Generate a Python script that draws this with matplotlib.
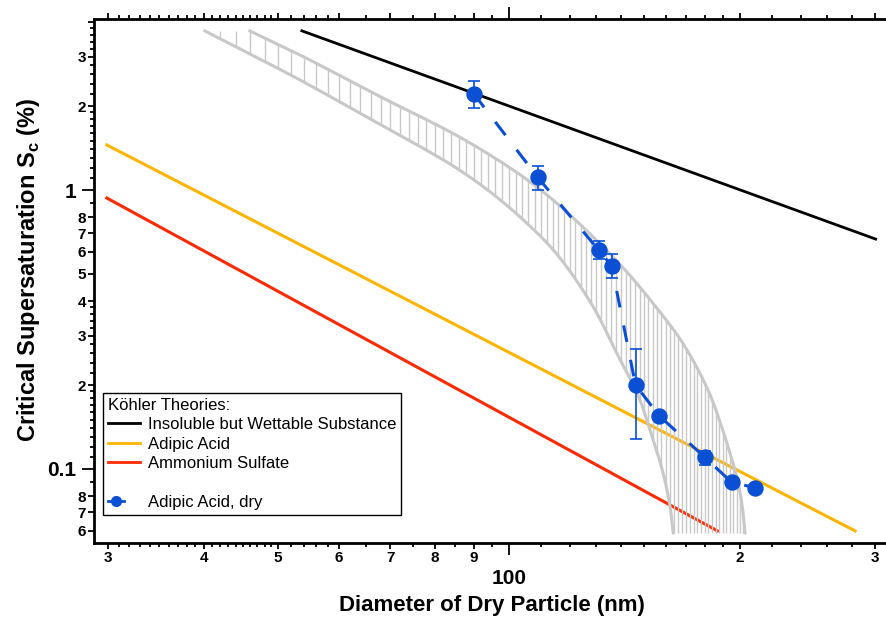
import numpy as np
import matplotlib
matplotlib.use('Agg')
import matplotlib.pyplot as plt
from matplotlib.lines import Line2D
from matplotlib.legend_handler import HandlerLine2D
from matplotlib.ticker import FixedLocator, FixedFormatter, NullFormatter

plt.rcParams['font.family'] = ['Liberation Sans', 'DejaVu Sans']
plt.rcParams['font.weight'] = 'bold'
plt.rcParams['mathtext.fontset'] = 'custom'
plt.rcParams['mathtext.bf'] = 'Liberation Sans:bold'
plt.rcParams['mathtext.rm'] = 'Liberation Sans'

# Koehler theory lines (dry diameter nm, Sc %)
insol_dp = [53.7, 300.6]
insol_sc = [3.72, 0.667]
adipic_dp = [29.9, 282.6]
adipic_sc = [1.45, 0.060]
amsulf_dp = [29.9, 187.0]
amsulf_sc = [0.936, 0.060]

# grey band edges
band_a_dp = [40.15, 45.95, 53.4, 69.98, 77.3, 85.5, 94.45, 104.4, 115.4, 128.7,
             138.2, 147.3, 153.1, 158.8, 162.2, 163.7]
band_a_sc = [3.715, 3.073, 2.48, 1.641, 1.411, 1.196, 0.986, 0.781, 0.590, 0.382,
             0.260, 0.184, 0.1346, 0.0968, 0.0731, 0.059]
band_b_dp = [45.95, 53.4, 69.98, 77.3, 85.5, 94.45, 104.4, 115.4, 127.5, 142.5,
             157.3, 166.1, 174.8, 182.9, 189.0, 194.1, 198.3, 201.3, 203.1]
band_b_sc = [3.715, 3.047, 2.073, 1.812, 1.568, 1.335, 1.113, 0.898, 0.696, 0.508,
             0.3653, 0.2997, 0.2378, 0.1842, 0.1438, 0.1141, 0.0929, 0.0743, 0.059]

# measured adipic acid, dry
dry_dp = [90.0, 109.0, 130.9, 136.1, 146.2, 157.0, 180.1, 195.1, 209.3]
dry_sc = [2.21, 1.11, 0.609, 0.535, 0.200, 0.155, 0.110, 0.0896, 0.0857]
dry_hi = [2.46, 1.22, 0.656, 0.588, 0.270, 0.155, 0.116, 0.0896, 0.0857]
dry_lo = [1.97, 1.00, 0.566, 0.483, 0.128, 0.155, 0.103, 0.0896, 0.0857]

xtick_vals = [30, 40, 50, 60, 70, 80, 90, 100, 200, 300]
xtick_labels = ['3', '4', '5', '6', '7', '8', '9', '100', '2', '3']
xminor = ([31, 32, 33, 34, 35, 36, 37, 38, 39, 41, 42, 43, 44, 45, 46, 47, 48, 49,
           52, 54, 56, 58, 65, 75, 85, 95, 110, 120, 130, 140, 150, 160, 170, 180, 190,
           220, 240, 260, 280])
ytick_vals = [0.06, 0.07, 0.08, 0.1, 0.2, 0.3, 0.4, 0.5, 0.6, 0.7, 0.8, 1, 2, 3, 4]
ytick_labels = ['6', '7', '8', '0.1', '2', '3', '4', '5', '6', '7', '8', '1', '2', '3', '']
yminor = ([0.09, 0.11, 0.12, 0.13, 0.14, 0.15, 0.16, 0.17, 0.18, 0.19,
           0.22, 0.24, 0.26, 0.28, 0.32, 0.34, 0.36, 0.38, 0.9,
           1.1, 1.2, 1.3, 1.4, 1.5, 1.6, 1.7, 1.8, 1.9,
           2.2, 2.4, 2.6, 2.8, 3.2, 3.4, 3.6, 3.8])

blue = '#0a4fd4'
orange = '#ffb400'
red = '#ff2a00'
grey = '#c8c8c8'


def smooth_path(xs, ys, n=12):
    # centripetal Catmull-Rom through the read points, log-log space (drawing only)
    sc = np.array([767.0, 279.0])
    p = np.column_stack([np.log10(xs), np.log10(ys)]) * sc
    p = np.vstack([2 * p[0] - p[1], p, 2 * p[-1] - p[-2]])
    out = []
    for i in range(1, len(p) - 2):
        p0, p1, p2, p3 = p[i - 1], p[i], p[i + 1], p[i + 2]
        t0 = 0.0
        t1 = t0 + np.linalg.norm(p1 - p0) ** 0.5
        t2 = t1 + np.linalg.norm(p2 - p1) ** 0.5
        t3 = t2 + np.linalg.norm(p3 - p2) ** 0.5
        t = np.linspace(t1, t2, n, endpoint=False)[:, None]
        a1 = (t1 - t) / (t1 - t0) * p0 + (t - t0) / (t1 - t0) * p1
        a2 = (t2 - t) / (t2 - t1) * p1 + (t - t1) / (t2 - t1) * p2
        a3 = (t3 - t) / (t3 - t2) * p2 + (t - t2) / (t3 - t2) * p3
        b1 = (t2 - t) / (t2 - t0) * a1 + (t - t0) / (t2 - t0) * a2
        b2 = (t3 - t) / (t3 - t1) * a2 + (t - t1) / (t3 - t1) * a3
        out.append((t2 - t) / (t2 - t1) * b1 + (t - t1) / (t2 - t1) * b2)
    out.append(p[-2][None, :])
    out = np.vstack(out) / sc
    return 10 ** out[:, 0], 10 ** out[:, 1]


fig = plt.figure(figsize=(8.86, 6.17), dpi=100)
ax = fig.add_axes([94/886, 74/617, 792/886, 524/617])
ax.set_xscale('log')
ax.set_yscale('log')
ax.set_xlim(28.77, 310.1)
ax.set_ylim(0.05429, 4.102)

ax.plot(insol_dp, insol_sc, color='black', lw=2.0, zorder=2)
ax.plot(adipic_dp, adipic_sc, color=orange, lw=2.2, zorder=2)
ax.plot(amsulf_dp, amsulf_sc, color=red, lw=2.2, zorder=2)

# vertical hatching of the band, every 2 nm
a_x, a_y = smooth_path(band_a_dp, band_a_sc)
b_x, b_y = smooth_path(band_b_dp, band_b_sc)
hatch_x = np.arange(42, 203, 2)
h_lo = np.exp(np.interp(np.log(hatch_x), np.log(np.maximum.accumulate(a_x)), np.log(a_y),
                        right=np.log(band_a_sc[-1])))
h_hi = np.exp(np.interp(np.log(hatch_x), np.log(np.maximum.accumulate(b_x)), np.log(b_y),
                        left=np.log(band_b_sc[0])))
ax.vlines(hatch_x, h_lo, h_hi, colors=grey, lw=1.0, zorder=3)
ax.plot(a_x, a_y, color=grey, lw=2.2, zorder=3)
ax.plot(b_x, b_y, color=grey, lw=2.2, zorder=3)

yerr = [np.array(dry_sc) - np.array(dry_lo), np.array(dry_hi) - np.array(dry_sc)]
ax.errorbar(dry_dp, dry_sc, yerr=yerr, fmt='none', ecolor=blue, elinewidth=1.2,
            capsize=4.3, capthick=1.2, zorder=4)
ax.plot(dry_dp, dry_sc, color=blue, lw=2.2, ls=(0, (5.5, 6)), marker='o', ms=10.8,
        zorder=5)

# axes styling
for s in ['left', 'bottom', 'top']:
    ax.spines[s].set_linewidth(2.0)
ax.spines['right'].set_visible(False)

ax.xaxis.set_major_locator(FixedLocator(xtick_vals))
ax.xaxis.set_major_formatter(FixedFormatter(xtick_labels))
ax.xaxis.set_minor_locator(FixedLocator(xminor))
ax.xaxis.set_minor_formatter(NullFormatter())
ax.yaxis.set_major_locator(FixedLocator(ytick_vals))
ax.yaxis.set_major_formatter(FixedFormatter(ytick_labels))
ax.yaxis.set_minor_locator(FixedLocator(yminor))
ax.yaxis.set_minor_formatter(NullFormatter())

ax.tick_params(which='both', direction='out', width=1.3, top=True, right=False,
               labeltop=False)
ax.tick_params(which='major', length=4.5, labelsize=11, pad=1.2)
ax.tick_params(which='minor', length=2.6)

xt = ax.xaxis.get_major_ticks()
t = xt[xtick_vals.index(100)]
t.set_pad(14)
t.tick1line.set_markersize(8.6)
t.tick2line.set_markersize(8.6)
t.label1.set_fontsize(15)

yt = ax.yaxis.get_major_ticks()
for v in [0.1, 1]:
    t = yt[ytick_vals.index(v)]
    t.set_pad(8)
    t.tick1line.set_markersize(8.6)
    t.tick2line.set_markersize(8.6)
    t.label1.set_fontsize(15)

ax.set_xlabel('Diameter of Dry Particle (nm)', fontsize=16, fontweight='bold')
ax.xaxis.set_label_coords(0.502, -0.099)
ax.set_ylabel(r'Critical Supersaturation S$_\mathbf{c}$ (%)', fontsize=17,
              fontweight='bold')
ax.yaxis.set_label_coords(-0.066, 0.521)


class EndMarker(HandlerLine2D):
    def get_xdata(self, legend, xdescent, ydescent, width, height, fontsize):
        xdata = np.array([-xdescent, -xdescent + 0.5 * width])
        return xdata, np.array([-xdescent + 0.45 * width])


handles = [Line2D([], [], color='black', lw=2),
           Line2D([], [], color=orange, lw=2),
           Line2D([], [], color=red, lw=2),
           Line2D([], [], color='none'),
           Line2D([], [], color=blue, lw=2, marker='o', ms=7)]
labels = ['Insoluble but Wettable Substance', 'Adipic Acid', 'Ammonium Sulfate',
          ' ', 'Adipic Acid, dry']
leg = ax.legend(handles, labels, handler_map={handles[4]: EndMarker()},
                title='Köhler Theories:', alignment='left', loc='lower left',
                bbox_to_anchor=(0.0114, 0.053), borderaxespad=0, fancybox=False,
                edgecolor='black', framealpha=1, prop={'weight': 'normal', 'size': 12},
                title_fontproperties={'weight': 'normal', 'size': 12},
                handlelength=1.9, handletextpad=0.5, labelspacing=0.27, borderpad=0.3)
leg.get_frame().set_linewidth(1.0)
leg.set_zorder(6)

fig.savefig('out.png', dpi=100)
